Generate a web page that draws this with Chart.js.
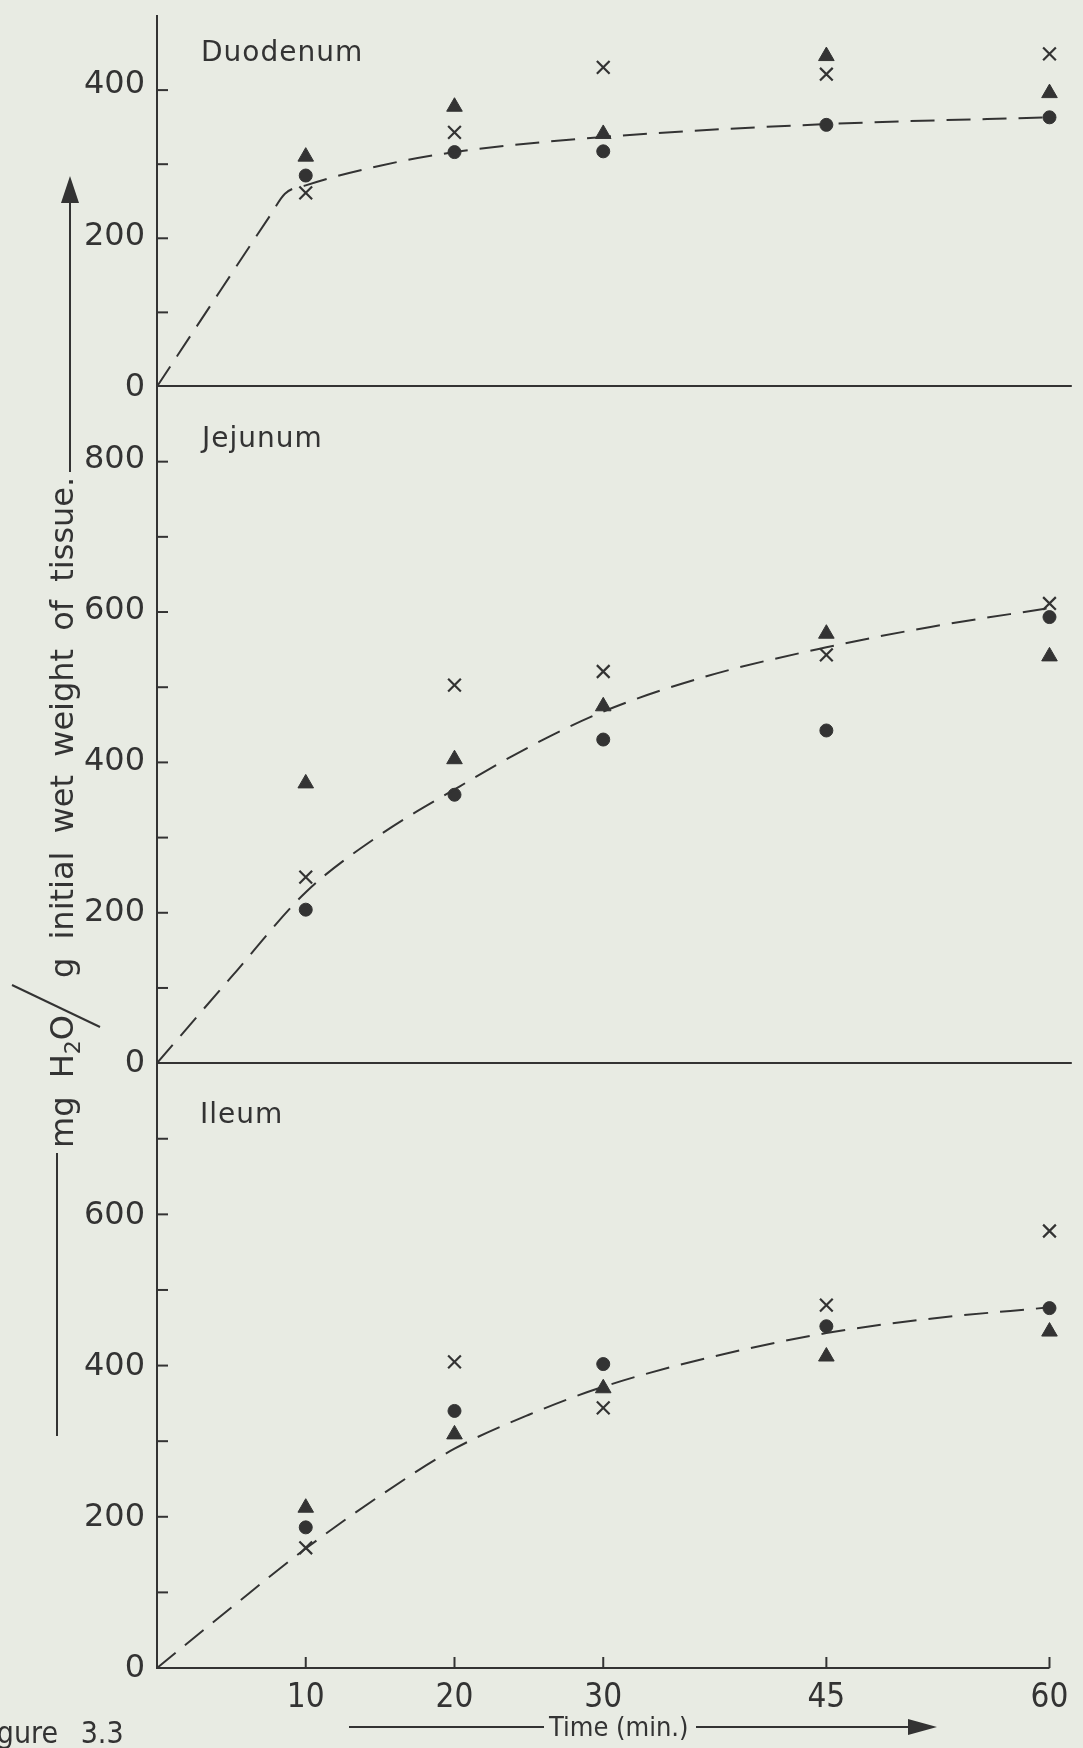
<!DOCTYPE html>
<html>
<head>
<meta charset="utf-8">
<script src="https://cdn.jsdelivr.net/npm/chart.js@4"></script>
<style>
  html, body { margin: 0; padding: 0; background: #e8ebe3; }
  #wrap { position: relative; width: 1083px; height: 1748px; overflow: hidden; background: #e8ebe3; }
  #chart { position: absolute; left: 0; top: 0; }
  .lbl { position: absolute; font-family: "DejaVu Sans", sans-serif; font-size: 28px; line-height: 28px; color: #333; letter-spacing: 1px; white-space: nowrap; }
  .vert { position: absolute; font-family: "DejaVu Sans", sans-serif; font-size: 32px; line-height: 40px; height: 40px; color: #333; white-space: nowrap; word-spacing: 8px; transform: rotate(-90deg); transform-origin: 0 0; }
  .vert sub { font-size: 22px; }
  .xt { position: absolute; font-family: "DejaVu Sans Condensed", "DejaVu Sans", sans-serif; font-size: 27px; line-height: 30px; color: #333; white-space: nowrap; }
</style>
</head>
<body>
<div id="wrap">
  <canvas id="chart" width="1083" height="1748"></canvas>
  <div class="lbl" style="left:201px;top:38px">Duodenum</div>
  <div class="lbl" style="left:202px;top:424px">Jejunum</div>
  <div class="lbl" style="left:200px;top:1100px">Ileum</div>
  <div class="vert" style="left:42px;top:1148px">mg H<sub>2</sub>O</div>
  <div class="vert" style="left:42px;top:978px">g initial wet weight of tissue.</div>
  <div class="xt" style="left:549px;top:1712px">Time (min.)</div>
  <div class="xt" style="left:-24px;top:1718px;font-size:30px;word-spacing:14px">Figure 3.3</div>
</div>
<script>
// sampling times (min) and tick labels
const times = [10, 20, 30, 45, 60];
const xTickLabels = ["10", "20", "30", "45", "60"];
const duoTickLabels = [0, 200, 400];
const jejTickLabels = [0, 200, 400, 600, 800];
const ileTickLabels = [0, 200, 400, 600];

// Duodenum
const duoCircle = [279, 310, 311, 346, 356];
const duoTriangle = [304, 370, 334, 437, 388];
const duoCross = [256, 336, 422, 413, 440];
const duoFitTime = [0, 4.3, 7.6, 8.6, 10, 15, 20, 30, 45, 60];
const duoFitValue = [0, 128, 226, 255, 266, 292, 310, 330, 347, 356];

// Jejunum
const jejCircle = [203, 355, 428, 440, 590];
const jejTriangle = [370, 402, 472, 568, 538];
const jejCross = [246, 500, 518, 540, 608];
const jejFitTime = [0, 5, 10, 15, 20, 25, 30, 37, 45, 52, 60];
const jejFitValue = [0, 114, 226, 302, 362, 418, 465, 512, 550, 577, 602];

// Ileum
const ileCircle = [186, 340, 402, 452, 476];
const ileTriangle = [212, 309, 370, 412, 445];
const ileCross = [159, 405, 344, 480, 578];
const ileFitTime = [0, 5, 10, 15, 20, 25, 30, 37, 45, 52, 60];
const ileFitValue = [0, 80, 158, 228, 290, 335, 372, 410, 443, 462, 477];

// axis ranges of the three stacked panels
const duoMax = 490;
const jejMax = 895;
const ileMax = 800;

const ink = "#333333";

function markers(values, style, radius, axis) {
  return {
    data: times.map((t, i) => ({ x: t, y: values[i] })),
    yAxisID: axis,
    showLine: false,
    pointStyle: style,
    pointRadius: radius,
    pointBackgroundColor: ink,
    pointBorderColor: ink,
    pointBorderWidth: style === "crossRot" ? 2.2 : 1,
  };
}

function fitLine(ts, vs, axis) {
  return {
    data: ts.map((t, i) => ({ x: t, y: vs[i] })),
    yAxisID: axis,
    showLine: true,
    borderColor: ink,
    borderWidth: 2,
    borderDash: [24, 12],
    pointRadius: 0,
    cubicInterpolationMode: "monotone",
    fill: false,
  };
}

function yAxis(max, weight, zeroLine, labels) {
  return {
    type: "linear",
    position: "left",
    stack: "gut",
    stackWeight: max,
    weight: weight,
    min: 0,
    max: max,
    labelValues: labels,
    border: { display: true, color: ink, width: 2 },
    grid: {
      drawTicks: false,
      lineWidth: 2,
      color: (c) => (zeroLine && c.tick && c.tick.value === 0 ? ink : "rgba(0,0,0,0)"),
    },
    ticks: { stepSize: 100, includeBounds: false, autoSkip: false, display: false },
    afterFit: (s) => {
      s.width = 157;
      s.paddingTop = 0;
      s.paddingBottom = 0;
    },
  };
}

// inward tick marks, tick labels, bottom axis, arrows and the slash of the y title
const decorations = {
  id: "decorations",
  afterDraw(chart) {
    const ctx = chart.ctx;
    const xs = chart.scales.x;
    const line = (x1, y1, x2, y2) => {
      ctx.beginPath();
      ctx.moveTo(x1, y1);
      ctx.lineTo(x2, y2);
      ctx.stroke();
    };
    const tri = (pts) => {
      ctx.beginPath();
      ctx.moveTo(pts[0], pts[1]);
      ctx.lineTo(pts[2], pts[3]);
      ctx.lineTo(pts[4], pts[5]);
      ctx.closePath();
      ctx.fill();
    };
    ctx.save();
    ctx.strokeStyle = ink;
    ctx.fillStyle = ink;
    ctx.lineWidth = 2;
    ctx.font = '32px "DejaVu Sans"';
    ctx.textAlign = "right";
    ctx.textBaseline = "middle";

    ["yDuo", "yJej", "yIle"].forEach((id) => {
      const s = chart.scales[id];
      s.ticks.forEach((t) => {
        if (t.value <= 0 || t.value >= s.max) return;
        const y = s.getPixelForValue(t.value);
        line(s.right, y, s.right + 11, y);
      });
      s.options.labelValues.forEach((v) => {
        ctx.fillText(String(v), s.right - 12, s.getPixelForValue(v) + 1);
      });
    });

    const yb = chart.chartArea.bottom;
    line(xs.getPixelForValue(0), yb, xs.getPixelForValue(60), yb);
    xs.ticks.forEach((t) => {
      const x = xs.getPixelForValue(t.value);
      line(x, yb, x, yb - 11);
    });

    // y title arrow and rules
    line(70, 472, 70, 200);
    tri([70, 176, 61, 203, 79, 203]);
    line(57, 1153, 57, 1436);
    line(12, 985, 100, 1027);

    // x title rules and arrow
    line(349, 1727, 544, 1727);
    line(696, 1727, 912, 1727);
    tri([937, 1727, 908, 1719, 908, 1735]);
    ctx.restore();
  },
};

new Chart(document.getElementById("chart"), {
  type: "scatter",
  data: {
    datasets: [
      fitLine(duoFitTime, duoFitValue, "yDuo"),
      markers(duoCircle, "circle", 6.5, "yDuo"),
      markers(duoTriangle, "triangle", 9, "yDuo"),
      markers(duoCross, "crossRot", 9, "yDuo"),
      fitLine(jejFitTime, jejFitValue, "yJej"),
      markers(jejCircle, "circle", 6.5, "yJej"),
      markers(jejTriangle, "triangle", 9, "yJej"),
      markers(jejCross, "crossRot", 9, "yJej"),
      fitLine(ileFitTime, ileFitValue, "yIle"),
      markers(ileCircle, "circle", 6.5, "yIle"),
      markers(ileTriangle, "triangle", 9, "yIle"),
      markers(ileCross, "crossRot", 9, "yIle"),
    ],
  },
  options: {
    responsive: false,
    animation: false,
    layout: { padding: { top: 16, right: 3, left: 0, bottom: 0 } },
    plugins: {
      legend: { display: false },
      tooltip: { enabled: false },
    },
    scales: {
      x: {
        type: "linear",
        min: 0,
        max: 61.5,
        border: { display: false },
        grid: { drawTicks: false, color: "rgba(0,0,0,0)" },
        afterBuildTicks: (s) => {
          s.ticks = times.map((v) => ({ value: v }));
        },
        ticks: {
          padding: 11,
          color: ink,
          autoSkip: false,
          maxRotation: 0,
          font: { family: '"DejaVu Sans Condensed", "DejaVu Sans", sans-serif', size: 33 },
          callback: (v) => xTickLabels[times.indexOf(v)] || "",
        },
        afterFit: (s) => {
          s.height = 80;
          s.paddingLeft = 0;
          s.paddingRight = 0;
        },
      },
      yDuo: yAxis(duoMax, 3, true, duoTickLabels),
      yJej: yAxis(jejMax, 2, true, jejTickLabels),
      yIle: yAxis(ileMax, 1, false, ileTickLabels),
    },
  },
  plugins: [decorations],
});
</script>
</body>
</html>
